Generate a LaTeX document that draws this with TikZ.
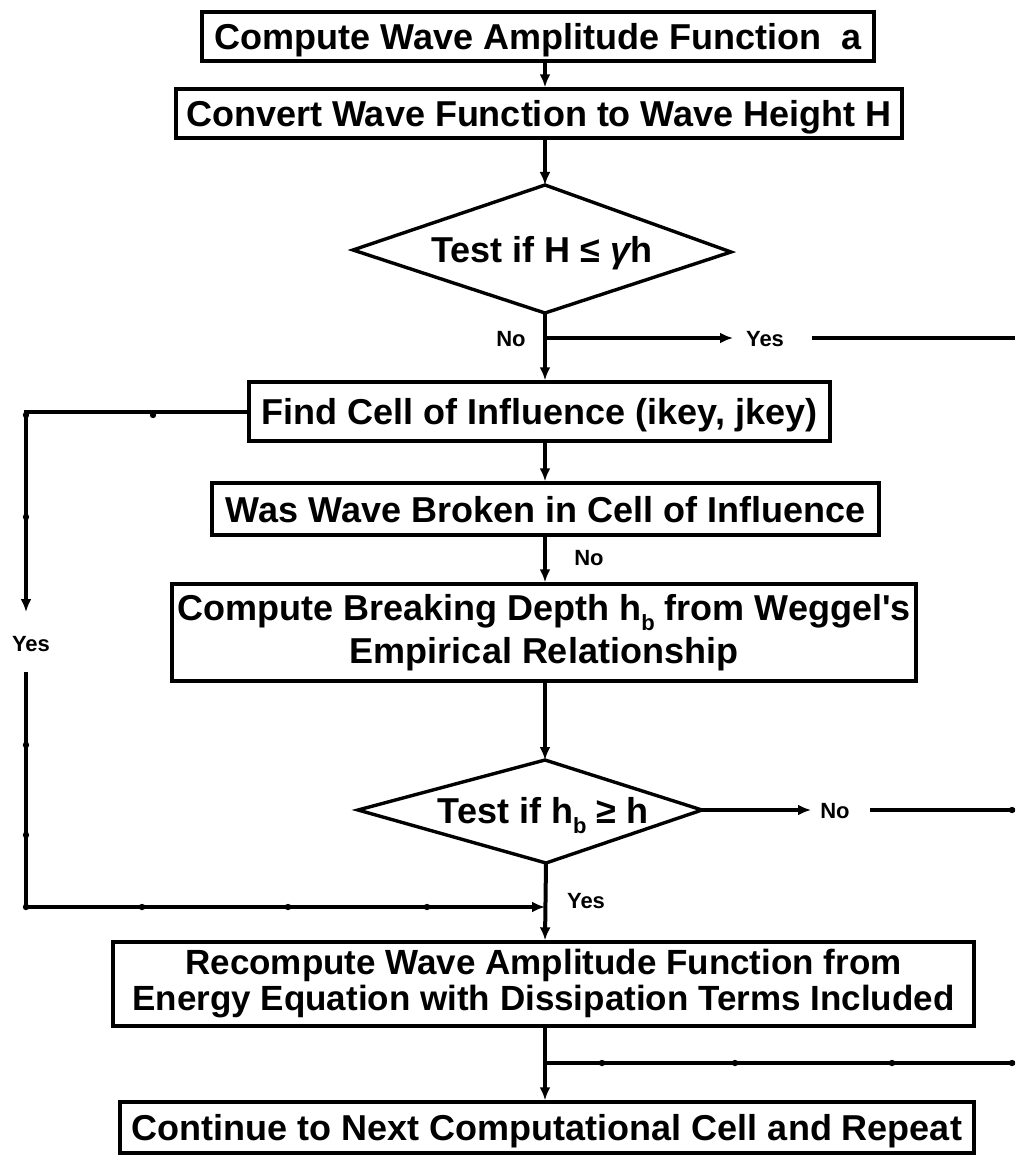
\documentclass[tikz,border=0pt]{standalone}
\usepackage{fontspec}
\setmainfont{Liberation Sans}
\usetikzlibrary{arrows.meta}
\begin{document}
\begin{tikzpicture}[x=1pt,y=-1pt,
  box/.style={draw, line width=3.4pt, inner sep=0pt, font=\fontsize{36}{43}\selectfont\bfseries, text height=26pt, text depth=0pt},
  mbox/.style={draw, line width=3.4pt, inner sep=0pt, align=center},
  dtext/.style={inner sep=0pt, font=\fontsize{36}{43}\selectfont\bfseries, text height=26pt, text depth=0pt},
  lbl/.style={inner sep=0pt, font=\fontsize{22}{24}\selectfont\bfseries, text height=16pt, text depth=0pt},
  conn/.style={line width=4pt},
  arr/.style={line width=4pt, -{Latex[length=13pt,width=11pt]}},
  dshape/.style={line width=3.4pt, line join=miter},
  tick/.style={fill=black}
]
\fill[white] (0,0) rectangle (1015,1155);
\useasboundingbox (0,0) rectangle (1015,1155);

\coordinate (sp) at (545,0);

% boxes
\node[box, minimum width=672pt, minimum height=49pt] (b1) at (538,36.5) {Compute Wave Amplitude Function \ a};
\node[box, minimum width=726pt, minimum height=49pt] (b2) at (539,113.5) {Convert Wave Function to Wave Height H};
\node[box, minimum width=581pt, minimum height=59pt] (b3) at (539.5,411.5) {Find Cell of Influence (ikey, jkey)};
\node[box, minimum width=667pt, minimum height=52pt] (b4) at (545.5,509) {Was Wave Broken in Cell of Influence};
\node[mbox, minimum width=744pt, minimum height=97pt, font=\fontsize{36}{43}\selectfont\bfseries] (b5) at (544,632.5)
  {Compute Breaking Depth h\raisebox{-0.28em}{\fontsize{22}{22}\selectfont b} from Weggel\textquotesingle s\\Empirical Relationship};
\node[mbox, minimum width=861pt, minimum height=84pt, font=\fontsize{35}{36}\selectfont\bfseries] (b6) at (543.5,984)
  {Recompute Wave Amplitude Function from\\Energy Equation with Dissipation Terms Included};
\node[box, minimum width=854pt, minimum height=51pt] (b7) at (547,1127.5) {Continue to Next Computational Cell and Repeat};

% diamond 1
\coordinate (d1n) at (545,185);
\coordinate (d1w) at (353,250);
\coordinate (d1e) at (731,252);
\coordinate (d1s) at (545,313);
\draw[dshape] (d1n) -- (d1e) -- (d1s) -- (d1w) -- cycle;
\node[dtext] (d1) at (542,250) {Test if H ≤ {\itshape γ}h};

% diamond 2
\coordinate (d2n) at (545,760);
\coordinate (d2w) at (358,810);
\coordinate (d2e) at (702,810);
\coordinate (d2s) at (546,863);
\draw[dshape] (d2n) -- (d2e) -- (d2s) -- (d2w) -- cycle;
\node[dtext] (d2) at (543,810) {Test if h\raisebox{-0.28em}{\fontsize{22}{22}\selectfont b} ≥ h};

% labels
\node[lbl] (no1) at (511,338) {No};
\node[lbl] (yes1) at (765,338) {Yes};
\node[lbl] (yesl) at (31,643) {Yes};
\node[lbl] (no2) at (589,557) {No};
\node[lbl] (no3) at (835,810) {No};
\node[lbl] (yes3) at (586,900) {Yes};

% free-end coordinates
\coordinate (j1) at (545,338);
\coordinate (y1a) at (733,338);
\coordinate (y1b) at (812,338);
\coordinate (y1c) at (1015,338);
\coordinate (l1) at (26,612);
\coordinate (l2) at (26,672);
\coordinate (j2) at (545,907);
\coordinate (n2a) at (811,810);
\coordinate (n2b) at (870,810);
\coordinate (n2c) at (1015,810);
\coordinate (r3) at (1015,1063);
\coordinate (j3) at (545,1063);

% connectors
\draw[arr] (b1.south -| sp) -- (b2.north -| sp);
\draw[arr] (b2.south -| sp) -- (d1n);
\draw[arr] (d1s) -- (b3.north -| sp);
\draw[arr] (j1) -- (y1a);
\draw[conn] (y1b) -- (y1c);
\draw[arr] (b3.west) -| (l1);
\draw[arr] (l2) |- (j2);
\draw[arr] (b3.south -| sp) -- (b4.north -| sp);
\draw[arr] (b4.south -| sp) -- (b5.north -| sp);
\draw[arr] (b5.south -| sp) -- (d2n);
\draw[arr] (d2e) -- (n2a);
\draw[conn] (n2b) -- (n2c);
\draw[arr] (d2s) -- (b6.north -| sp);
\draw[arr] (b6.south -| sp) -- (b7.north -| sp);
\draw[conn] (r3) -- (j3);

% small dots along the lines
\foreach \p in {(153,415),(26,415),(26,517),(26,745),(26,835),(26,907),(142,907),(288,907),(427,907),(602,1063),(735,1063),(892,1063),(1012,1063),(1012,810)}
  \fill[tick] \p circle (3.2pt);
\end{tikzpicture}
\end{document}
